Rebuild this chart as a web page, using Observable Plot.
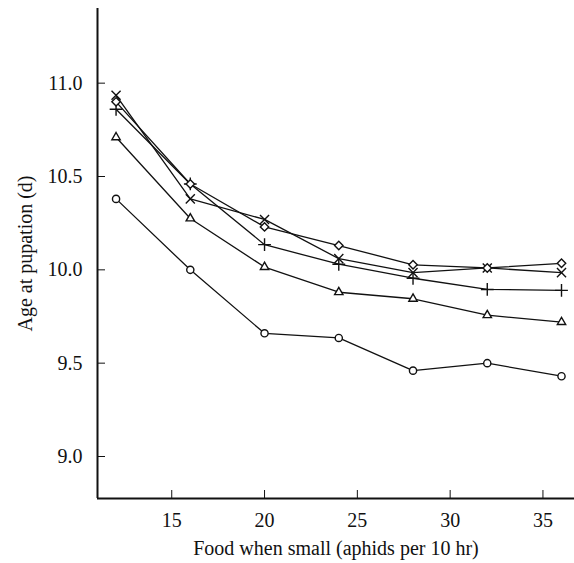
<!DOCTYPE html>
<html>
<head>
<meta charset="utf-8">
<script src="https://cdn.jsdelivr.net/npm/d3@7"></script>
<script src="https://cdn.jsdelivr.net/npm/@observablehq/plot@0.6"></script>
<style>
  html, body { margin: 0; padding: 0; background: #fff; }
</style>
</head>
<body>
<div id="chart"></div>
<script>
const food = [12, 16, 20, 24, 28, 32, 36];
const circleSeries   = [10.38, 10.00, 9.66, 9.635, 9.46, 9.50, 9.43];
const triangleSeries = [10.71, 10.275, 10.015, 9.88, 9.845, 9.757, 9.72];
const plusSeries     = [10.86, 10.46, 10.135, 10.03, 9.955, 9.895, 9.89];
const timesSeries    = [10.935, 10.38, 10.27, 10.06, 9.985, 10.01, 9.985];
const diamondSeries  = [10.90, 10.46, 10.23, 10.13, 10.027, 10.01, 10.035];
const xTicks = [15, 20, 25, 30, 35];
const yTicks = [9.0, 9.5, 10.0, 10.5, 11.0];

const series = [
  {name: "circle", symbol: "circle", r: 3.6, values: circleSeries},
  {name: "triangle", symbol: "triangle", r: 3.1, values: triangleSeries},
  {name: "plus", symbol: "plus", r: 4.2, values: plusSeries},
  {name: "times", symbol: "times", r: 4.2, values: timesSeries},
  {name: "diamond", symbol: "diamond2", r: 3.8, values: diamondSeries}
];
const rows = series.flatMap(s => food.map((f, i) => ({series: s.name, symbol: s.symbol, r: s.r, food: f, age: s.values[i]})));

const font = "'Liberation Serif', 'Times New Roman', serif";

const chart = Plot.plot({
  width: 574,
  height: 563,
  marginLeft: 97,
  marginRight: 0,
  marginTop: 8,
  marginBottom: 65,
  style: {fontFamily: font, fontSize: "20px", color: "#111", background: "#fff"},
  x: {domain: [11, 36.7]},
  y: {domain: [8.775, 11.4]},
  r: {type: "identity"},
  marks: [
    Plot.axisX({ticks: xTicks, tickSize: -8, tickPadding: 22, tickFormat: d => d, label: "Food when small (aphids per 10 hr)", labelAnchor: "center", labelArrow: "none", labelOffset: 56, fontSize: 20}),
    Plot.axisY({ticks: yTicks, tickSize: -8, tickPadding: 23, tickFormat: d3.format(".1f"), label: "Age at pupation (d)", labelAnchor: "center", labelArrow: "none", labelOffset: 80, fontSize: 20}),
    Plot.ruleX([11], {stroke: "#111", strokeWidth: 2}),
    Plot.ruleY([8.775], {stroke: "#111", strokeWidth: 2}),
    Plot.line(rows, {x: "food", y: "age", z: "series", stroke: "#111", strokeWidth: 1.3}),
    Plot.dot(rows, {x: "food", y: "age", symbol: "symbol", r: "r", stroke: "#111", fill: "white", strokeWidth: 1.4})
  ]
});
document.getElementById("chart").appendChild(chart);
</script>
</body>
</html>
